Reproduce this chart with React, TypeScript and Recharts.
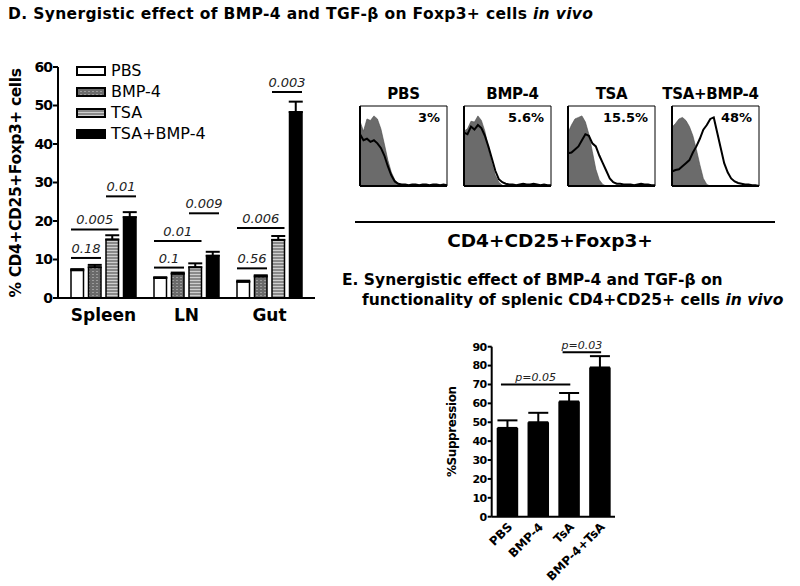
import React from 'react';
import {
  BarChart, Bar, XAxis, YAxis, ErrorBar, ReferenceLine, ReferenceArea, Legend, Label,
  ComposedChart, Area, Line,
} from 'recharts';

const FONT = '"DejaVu Sans", sans-serif';

// ---- panel D: % CD4+CD25+Foxp3+ per tissue ----
const tissues = ['Spleen', 'LN', 'Gut'];
const pbsFoxp3 = [7.2, 5.2, 4.2];
const bmpFoxp3 = [8, 6.3, 5.6];
const tsaFoxp3 = [15.2, 8, 15.1];
const comboFoxp3 = [21, 11, 48.3];
const pbsFoxp3Err = [0.3, 0.2, 0.3];
const bmpFoxp3Err = [0.6, 0.3, 0.3];
const tsaFoxp3Err = [1.1, 1, 1];
const comboFoxp3Err = [1.3, 1, 2.7];
const foxp3Ticks = [0, 10, 20, 30, 40, 50, 60];

// brackets: tissue, first bar, last bar, height (% units), p value
const foxp3Pvals = [
  { t: 0, from: 0, to: 1, at: 10.4, p: '0.18' },
  { t: 0, from: 0, to: 2, at: 17.8, p: '0.005' },
  { t: 0, from: 2, to: 3, at: 26.4, p: '0.01' },
  { t: 1, from: 0, to: 1, at: 7.9, p: '0.1' },
  { t: 1, from: 0, to: 2, at: 14.8, p: '0.01' },
  { t: 1, from: 2, to: 3, at: 22, p: '0.009' },
  { t: 2, from: 0, to: 1, at: 7.7, p: '0.56' },
  { t: 2, from: 0, to: 2, at: 18.2, p: '0.006' },
  { t: 2, from: 2, to: 3, at: 53.5, p: '0.003' },
];

// ---- flow histograms ----
const channel = [0, 4, 8, 12, 16, 20, 24, 28, 32, 36, 40, 44, 48, 52, 56, 60, 64, 68, 72, 76, 80, 84, 88, 92, 96, 100];
const pbsIso = [85, 72, 88, 86, 92, 88, 75, 55, 34, 18, 8, 3, 1, 0, 0, 0, 0, 0, 0, 0, 0, 0, 0, 0, 0, 0];
const pbsStain = [68, 60, 62, 58, 60, 56, 50, 40, 26, 14, 6, 3, 2, 2, 1, 2, 2, 1, 2, 2, 1, 2, 2, 1, 2, 1];
const bmpIso = [72, 75, 85, 84, 92, 86, 72, 50, 30, 14, 5, 1, 0, 0, 0, 0, 0, 0, 0, 0, 0, 0, 0, 0, 0, 0];
const bmpStain = [70, 68, 78, 74, 80, 76, 66, 52, 36, 20, 9, 5, 3, 2, 2, 1, 2, 3, 2, 2, 3, 2, 1, 2, 1, 1];
const tsaIso = [70, 80, 88, 90, 92, 84, 68, 45, 22, 8, 2, 0, 0, 0, 0, 0, 0, 0, 0, 0, 0, 0, 0, 0, 0, 0];
const tsaStain = [43, 44, 48, 52, 60, 68, 66, 56, 52, 40, 30, 20, 10, 5, 3, 3, 2, 2, 2, 1, 2, 3, 2, 2, 1, 1];
const comboIso = [77, 82, 88, 90, 86, 78, 66, 48, 28, 10, 2, 0, 0, 0, 0, 0, 0, 0, 0, 0, 0, 0, 0, 0, 0, 0];
const comboStain = [19, 21, 22, 26, 30, 34, 44, 52, 62, 74, 80, 88, 90, 70, 50, 30, 18, 10, 6, 4, 3, 2, 2, 1, 1, 0];
const flowTitles = ['PBS', 'BMP-4', 'TSA', 'TSA+BMP-4'];
const flowPercents = ['3%', '5.6%', '15.5%', '48%'];

// ---- panel E: suppression ----
const supprGroups = ['PBS', 'BMP-4', 'TsA', 'BMP-4+TsA'];
const suppression = [47, 50, 61, 79];
const suppressionErr = [4, 5, 4.5, 6];
const supprTicks = [0, 10, 20, 30, 40, 50, 60, 70, 80, 90];
const supprPvals = [
  { from: 0, to: 2, at: 70, p: 'p=0.05' },
  { from: 2, to: 3, at: 87, p: 'p=0.03' },
];

const foxp3Rows = tissues.map((tissue, i) => ({
  tissue,
  pbs: pbsFoxp3[i], bmp: bmpFoxp3[i], tsa: tsaFoxp3[i], combo: comboFoxp3[i],
  pbsE: [0, pbsFoxp3Err[i]], bmpE: [0, bmpFoxp3Err[i]], tsaE: [0, tsaFoxp3Err[i]], comboE: [0, comboFoxp3Err[i]],
}));
const supprRows = supprGroups.map((g, i) => ({ g, v: suppression[i], e: [0, suppressionErr[i]] }));
const flowPanels = flowTitles.map((title, i) => ({
  title,
  pct: flowPercents[i],
  rows: channel.map((c, k) => ({
    c,
    iso: [pbsIso, bmpIso, tsaIso, comboIso][i][k],
    stain: [pbsStain, bmpStain, tsaStain, comboStain][i][k],
  })),
}));

// bar geometry in panel D (px), used to place the p-value brackets
const BAND = 83;
const BAR_W = 12.5;
const BAR_GAP = 5;
const barCenter = (t: number, j: number) => t + 0.5 + ((j - 1.5) * (BAR_W + BAR_GAP)) / BAND;
const halfBar = BAR_W / 2 / BAND;

// flow panel boxes: left edge and small shift of the title
const flowLefts = [360, 464, 568, 672];
const flowTitleShift = [0, 5, 0, -5];

const series = [
  { key: 'pbs', name: 'PBS', fill: '#fff' },
  { key: 'bmp', name: 'BMP-4', fill: 'url(#bmpFill)' },
  { key: 'tsa', name: 'TSA', fill: 'url(#tsaFill)' },
  { key: 'combo', name: 'TSA+BMP-4', fill: '#000' },
];

const sideTitle = (text: string, cx: number, cy: number, size: number) => () => (
  <text x={cx} y={cy} transform={`rotate(-90 ${cx} ${cy})`} textAnchor="middle" dominantBaseline="central"
    fontFamily={FONT} fontWeight="bold" fontSize={size} letterSpacing={-0.4} fill="#000">
    {text}
  </text>
);

const FoxLegend = () => (
  <div style={{ fontFamily: FONT, fontSize: 16, color: '#000' }}>
    {series.map((s) => (
      <div key={s.key} style={{ display: 'flex', alignItems: 'center', height: 21 }}>
        <svg width={31} height={10} style={{ marginRight: 4 }}>
          <rect x={1} y={1} width={28} height={8} fill={s.fill} stroke="#000" strokeWidth={2} />
        </svg>
        {s.name}
      </div>
    ))}
  </div>
);

const axisStroke = { stroke: '#000', strokeWidth: 2 };
const zeroKey = () => 0;

function FlowPanel({ panel, left, shift }: { panel: any; left: number; shift: number }) {
  return (
    <div style={{ position: 'absolute', left: left - 18, top: 80 }}>
      <ComposedChart width={120} height={112} data={panel.rows} margin={{ top: 26, right: 15, left: 12, bottom: 0 }}>
        <XAxis dataKey="c" type="number" domain={[0, 100]} ticks={[0, 10, 20, 30, 40, 50, 60, 70, 80, 90, 100]}
          tick={false} tickSize={3} height={6} axisLine={axisStroke} tickLine={{ stroke: '#000' }} />
        <YAxis type="number" domain={[0, 105]} ticks={[0, 15, 30, 45, 60, 75, 90, 105]}
          tick={false} tickSize={3} width={6} axisLine={axisStroke} tickLine={{ stroke: '#000' }} />
        <Area dataKey="iso" type="linear" fill="#6b6b6b" fillOpacity={1} stroke="#4a4a4a" strokeWidth={0.6}
          isAnimationActive={false} />
        <Line dataKey="stain" type="linear" stroke="#000" strokeWidth={2} dot={false} isAnimationActive={false} />
        <ReferenceArea x1={0} x2={100} y1={0} y2={105} fill="none" stroke="#000" strokeWidth={1} ifOverflow="visible">
          <Label value={panel.title} position="top" offset={7} dx={shift} fontFamily={FONT} fontWeight="bold"
            fontSize={15} letterSpacing={-0.3} fill="#000" />
          <Label value={panel.pct} position="insideTopRight" offset={7} fontFamily={FONT} fontWeight="bold"
            fontSize={13} fill="#000" />
        </ReferenceArea>
      </ComposedChart>
    </div>
  );
}

export default function App() {
  return (
    <div style={{ position: 'fixed', left: 0, top: 0, width: 800, height: 586, background: '#fff', fontFamily: FONT }}>
      <svg width={0} height={0} style={{ position: 'absolute' }}>
        <defs>
          <pattern id="bmpFill" width="4" height="3" patternUnits="userSpaceOnUse">
            <rect width="4" height="3" fill="#6a6a6a" />
            <rect x="0" y="1" width="2" height="1" fill="#9c9c9c" />
          </pattern>
          <pattern id="tsaFill" width="3" height="3" patternUnits="userSpaceOnUse">
            <rect width="3" height="3" fill="#8a8a8a" />
            <rect y="1" width="3" height="1" fill="#cfcfcf" />
          </pattern>
        </defs>
      </svg>

      <div style={{ position: 'absolute', left: 8, top: 5, fontSize: 15.5, fontWeight: 'bold', letterSpacing: 0.35, whiteSpace: 'nowrap' }}>
        D. Synergistic effect of BMP-4 and TGF-β on Foxp3+ cells <i>in vivo</i>
      </div>

      {/* panel D */}
      <div style={{ position: 'absolute', left: 0, top: 0 }}>
        <BarChart width={330} height={340} data={foxp3Rows} margin={{ top: 67, right: 15, left: 0, bottom: 0 }}
          barGap={BAR_GAP} barSize={BAR_W}>
          <XAxis dataKey="tissue" padding={{ left: 4, right: 4 }} axisLine={axisStroke} tickLine={false}
            tickSize={0} tickMargin={11} height={42}
            tick={{ fontFamily: FONT, fontWeight: 'bold', fontSize: 17, fill: '#000' }} />
          <XAxis xAxisId="n" dataKey={zeroKey} type="number" domain={[0, 3]} allowDataOverflow hide
            padding={{ left: 4, right: 4 }} />
          <YAxis width={58} domain={[0, 60]} ticks={foxp3Ticks} interval={0} axisLine={axisStroke}
            tickLine={axisStroke} tickSize={5} tickMargin={1}
            tick={{ fontFamily: FONT, fontWeight: 'bold', fontSize: 14, fill: '#000', letterSpacing: -1 }}>
            <Label content={sideTitle('% CD4+CD25+Foxp3+ cells', 16, 183, 15.5)} />
          </YAxis>
          <Legend layout="vertical" align="center" verticalAlign="middle" content={FoxLegend}
            wrapperStyle={{ left: 76, top: 60, width: 'auto' }} />
          {series.map((s) => (
            <Bar key={s.key} dataKey={s.key} name={s.name} fill={s.fill} stroke="#000" strokeWidth={1.5}
              isAnimationActive={false}>
              <ErrorBar dataKey={`${s.key}E`} width={7} stroke="#000" strokeWidth={2} />
            </Bar>
          ))}
          {foxp3Pvals.map((b, i) => (
            <ReferenceLine key={i} xAxisId="n" ifOverflow="visible" stroke="#000" strokeWidth={2}
              segment={[{ x: barCenter(b.t, b.from) - halfBar, y: b.at }, { x: barCenter(b.t, b.to) + halfBar, y: b.at }]}
              label={{ value: b.p, position: 'top', offset: 5, fontFamily: FONT, fontSize: 13, fontStyle: 'italic', fill: '#222' }} />
          ))}
        </BarChart>
      </div>

      {/* flow histograms */}
      {flowPanels.map((p, i) => (
        <FlowPanel key={p.title} panel={p} left={flowLefts[i]} shift={flowTitleShift[i]} />
      ))}
      <div style={{ position: 'absolute', left: 355, top: 221, width: 420, borderTop: '2px solid #000' }} />
      <div style={{ position: 'absolute', left: 430, top: 230, width: 240, textAlign: 'center', fontSize: 18.5, fontWeight: 'bold' }}>
        CD4+CD25+Foxp3+
      </div>

      <div style={{ position: 'absolute', left: 342, top: 270, fontSize: 15.5, fontWeight: 'bold', letterSpacing: 0, lineHeight: '20px', whiteSpace: 'nowrap' }}>
        <div>E. Synergistic effect of BMP-4 and TGF-β on</div>
        <div style={{ paddingLeft: 20 }}>functionality of splenic CD4+CD25+ cells <i>in vivo</i></div>
      </div>

      {/* panel E */}
      <div style={{ position: 'absolute', left: 420, top: 330 }}>
        <BarChart width={200} height={256} data={supprRows} margin={{ top: 16.7, right: 5, left: 0, bottom: 0 }}
          barSize={21.5}>
          <XAxis dataKey="g" axisLine={axisStroke} tickLine={false} tickSize={0} tickMargin={5} height={69.3}
            interval={0} angle={-45} textAnchor="end"
            tick={{ fontFamily: FONT, fontWeight: 'bold', fontSize: 12, fill: '#000' }} />
          <XAxis xAxisId="n" dataKey={zeroKey} type="number" domain={[0, 4]} allowDataOverflow hide />
          <YAxis width={71.7} domain={[0, 90]} ticks={supprTicks} interval={0} axisLine={axisStroke}
            tickLine={axisStroke} tickSize={4} tickMargin={1}
            tick={{ fontFamily: FONT, fontWeight: 'bold', fontSize: 11, fill: '#000', letterSpacing: -0.5 }}>
            <Label content={sideTitle('%Suppression', 31.7, 101.7, 12)} />
          </YAxis>
          <Bar dataKey="v" fill="#000" isAnimationActive={false}>
            <ErrorBar dataKey="e" width={10} stroke="#000" strokeWidth={2} />
          </Bar>
          {supprPvals.map((b, i) => (
            <ReferenceLine key={i} xAxisId="n" ifOverflow="visible" stroke="#000" strokeWidth={2}
              segment={[{ x: b.from + 0.3, y: b.at }, { x: b.to + 0.55, y: b.at }]}
              label={{ value: b.p, position: 'top', offset: 3, fontFamily: FONT, fontSize: 11, fontStyle: 'italic', fill: '#222' }} />
          ))}
        </BarChart>
      </div>
    </div>
  );
}
